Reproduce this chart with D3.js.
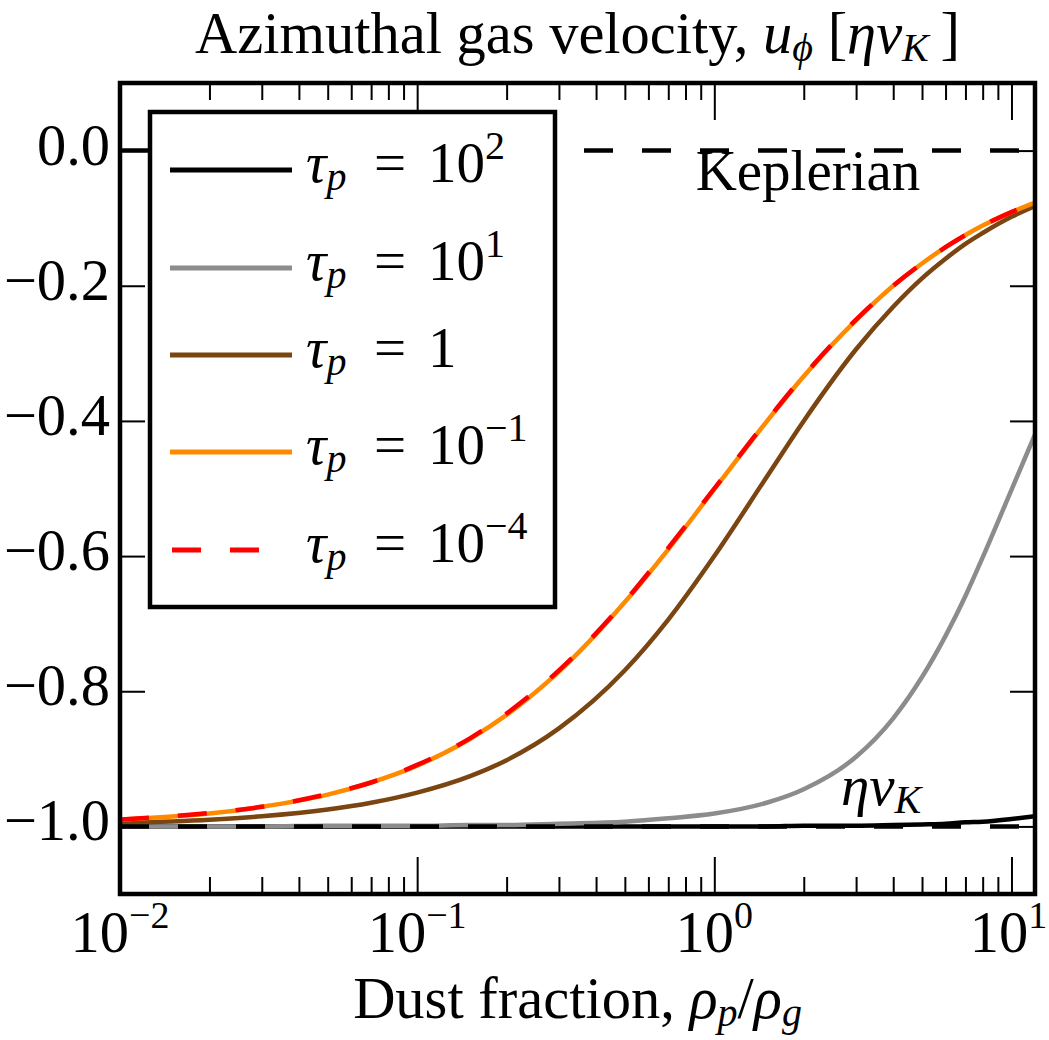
<!DOCTYPE html>
<html>
<head>
<meta charset="utf-8">
<script src="https://cdn.jsdelivr.net/npm/d3@7"></script>
<style>
  html, body { margin: 0; padding: 0; background: #fff; }
  svg text { font-family: "Liberation Serif", "Times New Roman", serif; fill: #000; }
</style>
</head>
<body>
<script>
// ---------- data ----------
const dustFraction = [0.01, 0.02, 0.03, 0.05, 0.07, 0.1, 0.15, 0.2, 0.3, 0.5, 0.7, 1, 1.5, 2, 3, 4, 5, 6, 7, 8, 10, 12];

const tau100 = [-1.000, -1.000, -1.000, -1.000, -1.000, -1.000, -1.000, -1.000, -1.000, -1.000, -1.000, -1.000, -1.000, -0.999, -0.999, -0.998, -0.997, -0.996, -0.994, -0.993, -0.989, -0.985];
const tau10  = [-1.000, -1.000, -1.000, -0.999, -0.999, -0.999, -0.998, -0.998, -0.996, -0.993, -0.988, -0.981, -0.965, -0.945, -0.897, -0.840, -0.779, -0.718, -0.659, -0.602, -0.502, -0.420];
const tau1   = [-0.995, -0.990, -0.985, -0.975, -0.965, -0.950, -0.926, -0.902, -0.855, -0.769, -0.694, -0.600, -0.483, -0.400, -0.294, -0.231, -0.189, -0.160, -0.138, -0.122, -0.098, -0.082];
const tau0p1 = [-0.990, -0.981, -0.971, -0.953, -0.935, -0.910, -0.871, -0.835, -0.771, -0.668, -0.590, -0.501, -0.401, -0.334, -0.251, -0.200, -0.167, -0.143, -0.125, -0.111, -0.091, -0.077];
const tau1em4 = [-0.990, -0.980, -0.971, -0.952, -0.935, -0.909, -0.870, -0.833, -0.769, -0.667, -0.588, -0.500, -0.400, -0.333, -0.250, -0.200, -0.167, -0.143, -0.125, -0.111, -0.091, -0.077];

const seriesNames = ["1e2", "1e1", "1", "1e-1", "1e-4"];
const seriesValues = [tau100, tau10, tau1, tau0p1, tau1em4];
const seriesColors = ["#000000", "#8c8c8c", "#7a4510", "#ff8a00", "#ff0000"];
const seriesDashed = [false, false, false, false, true];
// legend labels: base "10" + exponent (null means plain "1")
const legendExponents = ["2", "1", null, "\u22121", "\u22124"];

const yTickValues = [0.0, -0.2, -0.4, -0.6, -0.8, -1.0];
const yTickLabels = ["0.0", "\u22120.2", "\u22120.4", "\u22120.6", "\u22120.8", "\u22121.0"];
const xMajorTicks = [0.01, 0.1, 1, 10];
const xMajorExponents = ["\u22122", "\u22121", "0", "1"];
const xMinorMultipliers = [2, 3, 4, 5, 6, 7, 8, 9];
const xMinorDecades = [0.01, 0.1, 1];
const referenceLevels = [0.0, -1.0];

// ---------- layout ----------
const W = 1049, H = 1040;
const L = 120, R = 1035, T = 83, B = 894;
const FS = 57, FSbig = 58.5, FSsub = 40;

const svg = d3.select("body").append("svg").attr("width", W).attr("height", H);

const x = d3.scaleLog().domain([0.01, 12]).range([L, R]);
const y = d3.scaleLinear().domain([-1.1, 0.1]).range([B, T]);

svg.append("defs").append("clipPath").attr("id", "clip")
  .append("rect").attr("x", L).attr("y", T).attr("width", R - L).attr("height", B - T);

const plot = svg.append("g").attr("clip-path", "url(#clip)");

const line = d3.line()
  .x(d => x(d[0]))
  .y(d => y(d[1]))
  .curve(d3.curveMonotoneX);

seriesValues.forEach((vals, i) => {
  const pts = dustFraction.map((e, k) => [e, vals[k]]);
  plot.append("path")
    .attr("d", line(pts))
    .attr("fill", "none")
    .attr("stroke", seriesColors[i])
    .attr("stroke-width", 4.5)
    .attr("stroke-dasharray", seriesDashed[i] ? "29,29" : null);
});

// reference dashed lines (Keplerian & eta v_K)
referenceLevels.forEach(v => {
  plot.append("line")
    .attr("x1", L).attr("x2", R)
    .attr("y1", y(v)).attr("y2", y(v))
    .attr("stroke", "#000").attr("stroke-width", 4.5)
    .attr("stroke-dasharray", "29,29");
});

// annotations
svg.append("text").attr("x", 808).attr("y", 190).attr("text-anchor", "middle")
  .attr("font-size", FS).text("Keplerian");
{
  const t = svg.append("text").attr("x", 841).attr("y", 805).attr("font-size", FS);
  t.append("tspan").attr("font-style", "italic").text("\u03B7v");
  t.append("tspan").attr("font-style", "italic").attr("font-size", FSsub).attr("dy", 8).text("K");
}

// ---------- axes ----------
const axesG = svg.append("g");
const minorTicks = [];
xMinorDecades.forEach(dec => xMinorMultipliers.forEach(m => minorTicks.push(dec * m)));

const xAxisBottom = d3.axisBottom(x).tickValues(xMajorTicks).tickSize(-37).tickFormat("");
const xAxisTop = d3.axisTop(x).tickValues(xMajorTicks).tickSize(-37).tickFormat("");
const xMinorBottom = d3.axisBottom(x).tickValues(minorTicks).tickSize(-17).tickFormat("");
const xMinorTop = d3.axisTop(x).tickValues(minorTicks).tickSize(-17).tickFormat("");
const yAxisLeft = d3.axisLeft(y).tickValues(yTickValues).tickSize(-25).tickFormat("");
const yAxisRight = d3.axisRight(y).tickValues(yTickValues).tickSize(-25).tickFormat("");

function styleAxis(g) {
  g.select(".domain").remove();
  g.selectAll(".tick line").attr("stroke", "#000").attr("stroke-width", 2);
}
axesG.append("g").attr("transform", `translate(0,${B})`).call(xAxisBottom).call(styleAxis);
axesG.append("g").attr("transform", `translate(0,${T})`).call(xAxisTop).call(styleAxis);
axesG.append("g").attr("transform", `translate(0,${B})`).call(xMinorBottom).call(styleAxis);
axesG.append("g").attr("transform", `translate(0,${T})`).call(xMinorTop).call(styleAxis);
axesG.append("g").attr("transform", `translate(${L},0)`).call(yAxisLeft).call(styleAxis);
axesG.append("g").attr("transform", `translate(${R},0)`).call(yAxisRight).call(styleAxis);

// y tick labels
yTickValues.forEach((v, i) => {
  svg.append("text").attr("x", 110).attr("y", y(v) + 14)
    .attr("text-anchor", "end").attr("font-size", FSbig).text(yTickLabels[i]);
});
// x tick labels
xMajorTicks.forEach((v, i) => {
  const last = i === xMajorTicks.length - 1;
  const t = svg.append("text").attr("x", x(v) - (last ? 3 : 0)).attr("y", 952)
    .attr("text-anchor", "middle").attr("font-size", FSbig);
  t.append("tspan").text("10");
  t.append("tspan").attr("font-size", 38).attr("dy", -24).text(xMajorExponents[i]);
});

// ---------- legend ----------
const lg = svg.append("g");
lg.append("rect").attr("x", 150).attr("y", 112).attr("width", 405).attr("height", 495)
  .attr("fill", "#fff").attr("stroke", "#000").attr("stroke-width", 4.5);
const legendRows = [170, 268, 355, 452, 550];
seriesNames.forEach((n, i) => {
  const ly = legendRows[i];
  lg.append("line")
    .attr("x1", seriesDashed[i] ? 172 : 170).attr("x2", seriesDashed[i] ? 261 : 292)
    .attr("y1", ly).attr("y2", ly)
    .attr("stroke", seriesColors[i]).attr("stroke-width", 5)
    .attr("stroke-dasharray", seriesDashed[i] ? "29,29" : null);
  const t = lg.append("text").attr("x", 306).attr("y", ly + 12).attr("font-size", FS);
  t.append("tspan").attr("font-style", "italic").text("\u03C4");
  t.append("tspan").attr("font-style", "italic").attr("font-size", FSsub).attr("dy", 8).text("p");
  t.append("tspan").attr("x", 374).attr("dy", -8).text("=");
  t.append("tspan").attr("x", 428).text(legendExponents[i] === null ? "1" : "10");
  if (legendExponents[i] !== null) {
    t.append("tspan").attr("font-size", FSsub).attr("dy", -23).text(legendExponents[i]);
  }
});

// frame
svg.append("rect").attr("x", L).attr("y", T).attr("width", R - L).attr("height", B - T)
  .attr("fill", "none").attr("stroke", "#000").attr("stroke-width", 4.5);

// ---------- title & axis label ----------
{
  const t = svg.append("text").attr("x", (L + R) / 2).attr("y", 53)
    .attr("text-anchor", "middle").attr("font-size", FSbig);
  t.append("tspan").text("Azimuthal gas velocity, ");
  t.append("tspan").attr("font-style", "italic").text("u");
  t.append("tspan").attr("font-style", "italic").attr("font-size", FSsub).attr("dy", 8).text("\u03D5");
  t.append("tspan").attr("dy", -8).text(" [");
  t.append("tspan").attr("font-style", "italic").text("\u03B7v");
  t.append("tspan").attr("font-style", "italic").attr("font-size", FSsub).attr("dy", 8).text("K");
  t.append("tspan").attr("dy", -8).text("\u2009]");
}
{
  const t = svg.append("text").attr("x", (L + R) / 2).attr("y", 1018)
    .attr("text-anchor", "middle").attr("font-size", FSbig);
  t.append("tspan").text("Dust fraction, ");
  t.append("tspan").attr("font-style", "italic").text("\u03C1");
  t.append("tspan").attr("font-style", "italic").attr("font-size", FSsub).attr("dy", 8).text("p");
  t.append("tspan").attr("dy", -8).text("/");
  t.append("tspan").attr("font-style", "italic").text("\u03C1");
  t.append("tspan").attr("font-style", "italic").attr("font-size", FSsub).attr("dy", 8).text("g");
}
</script>
</body>
</html>
